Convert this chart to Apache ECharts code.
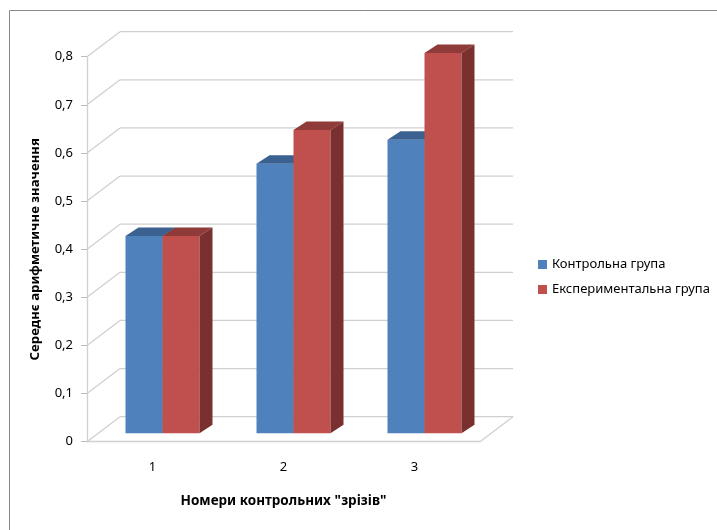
<!DOCTYPE html>
<html>
<head>
<meta charset="utf-8">
<script src="https://cdn.jsdelivr.net/npm/echarts@6/dist/echarts.min.js"></script>
<style>html,body{margin:0;padding:0;background:#fff}#c{width:717px;height:530px}</style>
</head>
<body>
<div id="c"></div>
<script>
const categories = ['1', '2', '3'];
const controlValues = [0.41, 0.56, 0.61];
const experimentalValues = [0.41, 0.63, 0.79];
const seriesNames = ['Контрольна група', 'Експериментальна група'];
const yTicks = [0, 0.1, 0.2, 0.3, 0.4, 0.5, 0.6, 0.7, 0.8];

const FONT = '"Noto Sans", "Open Sans", sans-serif';
const WALL_DX = 33, WALL_DY = -25;     // depth of the floor/back wall
const BAR_SHIFT_X = 10, BAR_SHIFT_Y = -8.4; // bars sit inside the depth
const BAR_DX = 13, BAR_DY = -8.5;      // bar depth
const BAR_W = 37;
const GRID_COLOR = '#d0d0d0';

const faceColors = [
  { front: '#4f81bd', top: '#3a6190', side: '#2f4f77' },
  { front: '#c0504d', top: '#8e3b39', side: '#7a302e' }
];

function barRenderer(sIdx) {
  return function (params, api) {
    const i = api.value(0), v = api.value(1);
    const top = api.coord([i, v]);
    const base = api.coord([i, 0]);
    const x0 = top[0] + BAR_SHIFT_X + (sIdx === 0 ? -BAR_W : 0);
    const yt = top[1] + BAR_SHIFT_Y;
    const yb = base[1] + BAR_SHIFT_Y;
    const c = faceColors[sIdx];
    return {
      type: 'group',
      children: [
        { type: 'rect', shape: { x: x0, y: yt, width: BAR_W, height: yb - yt }, style: { fill: c.front } },
        { type: 'polygon', shape: { points: [[x0, yt], [x0 + BAR_W, yt], [x0 + BAR_W + BAR_DX, yt + BAR_DY], [x0 + BAR_DX, yt + BAR_DY]] }, style: { fill: c.top } },
        { type: 'polygon', shape: { points: [[x0 + BAR_W, yt], [x0 + BAR_W + BAR_DX, yt + BAR_DY], [x0 + BAR_W + BAR_DX, yb + BAR_DY], [x0 + BAR_W, yb]] }, style: { fill: c.side } }
      ]
    };
  };
}

function wallRenderer(params, api) {
  const v = api.value(1);
  const cs = params.coordSys;
  const y = api.coord([0, v])[1];
  const gx = cs.x, gw = cs.width;
  const st = { stroke: GRID_COLOR, lineWidth: 1.3, fill: null };
  const children = [
    { type: 'line', shape: { x1: gx, y1: y, x2: gx + WALL_DX, y2: y + WALL_DY }, style: st },
    { type: 'line', shape: { x1: gx + WALL_DX, y1: y + WALL_DY, x2: gx + gw + WALL_DX, y2: y + WALL_DY }, style: st }
  ];
  if (v === 0) {
    children.push({ type: 'line', shape: { x1: gx + gw + WALL_DX, y1: y + WALL_DY, x2: gx + gw, y2: y }, style: st });
  }
  return { type: 'group', children: children, silent: true };
}

const chart = echarts.init(document.getElementById('c'));
chart.setOption({
  animation: false,
  backgroundColor: '#ffffff',
  graphic: [{
    type: 'polyline', silent: true,
    shape: { points: [[9.5, 560], [9.5, 10.5], [760, 10.5]] },
    style: { fill: null, stroke: '#8a8a8a', lineWidth: 1 }
  }],
  grid: { left: 87, top: 56.7, width: 393, height: 385 },
  legend: {
    orient: 'vertical', left: 533, top: 253,
    itemWidth: 9, itemHeight: 9, itemGap: 12, icon: 'rect',
    textStyle: { fontFamily: FONT, fontSize: 13, color: '#000' },
    data: seriesNames
  },
  xAxis: {
    type: 'category', data: categories,
    axisLine: { show: true, lineStyle: { color: GRID_COLOR, width: 1.3 } },
    axisTick: { show: false },
    axisLabel: { margin: 19, color: '#000', fontFamily: FONT, fontSize: 13 },
    name: 'Номери контрольних "зрізів"', nameLocation: 'middle', nameGap: 52,
    nameTextStyle: { fontFamily: FONT, fontSize: 13.5, fontWeight: 'bold', color: '#000' }
  },
  yAxis: {
    type: 'value', min: 0, max: 0.8, interval: 0.1,
    axisLine: { show: true, lineStyle: { color: GRID_COLOR, width: 1.3 } },
    axisTick: { show: true, length: 6, lineStyle: { color: '#bbbbbb' } },
    splitLine: { show: false },
    axisLabel: { margin: 14, color: '#000', fontFamily: FONT, fontSize: 13,
      formatter: function (v) { return String(Math.round(v * 10) / 10).replace('.', ','); } },
    name: 'Середнє арифметичне значення', nameLocation: 'middle', nameGap: 45,
    nameTextStyle: { fontFamily: FONT, fontSize: 13.2, fontWeight: 'bold', color: '#000' }
  },
  series: [
    { type: 'custom', name: 'wall', renderItem: wallRenderer, encode: { x: 0, y: 1 },
      data: yTicks.map(v => [0, v]), z: 1, silent: true },
    { type: 'custom', name: seriesNames[0], renderItem: barRenderer(0), encode: { x: 0, y: 1 },
      itemStyle: { color: faceColors[0].front },
      data: controlValues.map((v, i) => [i, v]), z: 2 },
    { type: 'custom', name: seriesNames[1], renderItem: barRenderer(1), encode: { x: 0, y: 1 },
      itemStyle: { color: faceColors[1].front },
      data: experimentalValues.map((v, i) => [i, v]), z: 3 }
  ]
});
</script>
</body>
</html>
